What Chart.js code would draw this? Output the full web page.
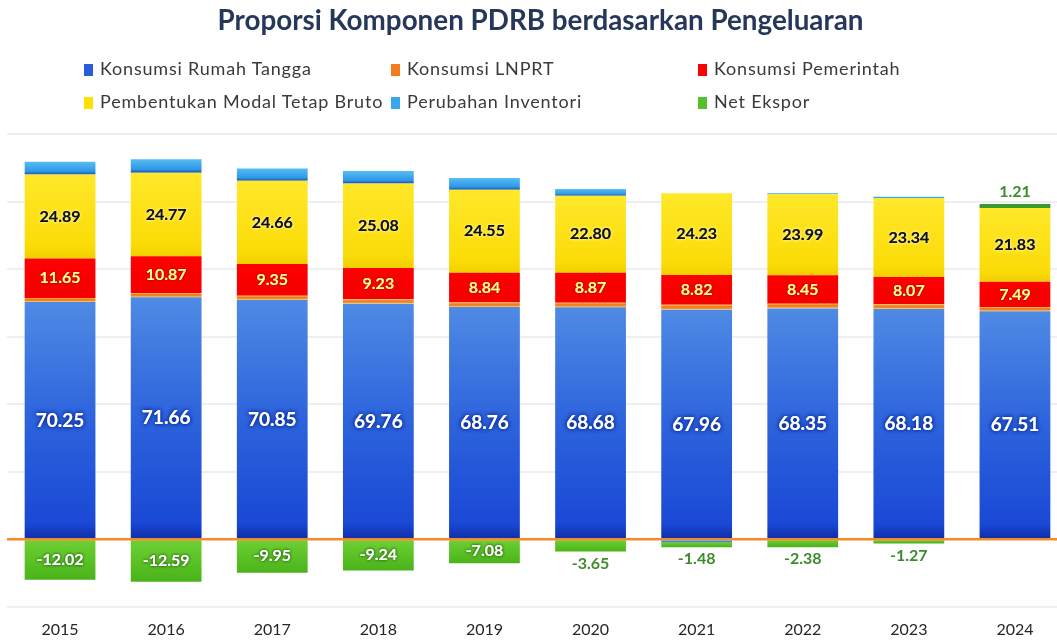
<!DOCTYPE html>
<html>
<head>
<meta charset="utf-8">
<script src="https://cdn.jsdelivr.net/npm/chart.js@4.4.1/dist/chart.umd.min.js"></script>
<style>
  html, body { margin:0; padding:0; background:#fff; overflow:hidden; width:1057px; height:640px; }
  #wrap { position:absolute; left:0; top:0; width:1068px; height:644px; }
  #title { position:absolute; left:12px; width:1057px; top:3px; text-align:center;
    font-family:Lato, sans-serif; font-weight:700; font-size:27.8px; color:#26385a; }
  .lg { position:absolute; font-family:Lato, sans-serif; font-size:18px; letter-spacing:0.8px; color:#3a3a3a; white-space:nowrap; }
  .lg i { display:inline-block; width:9px; height:12px; margin-right:7px; vertical-align:-1px; }
</style>
</head>
<body>
<div id="wrap"><canvas id="c"></canvas></div>
<div id="title">Proporsi Komponen PDRB berdasarkan Pengeluaran</div>
<div id="legend"></div>
<script>
const years = ['2015','2016','2017','2018','2019','2020','2021','2022','2023','2024'];
const rumahTangga = [70.25, 71.66, 70.85, 69.76, 68.76, 68.68, 67.96, 68.35, 68.18, 67.51];
const lnprt       = [1.22, 1.25, 1.27, 1.30, 1.35, 1.37, 1.45, 1.40, 1.40, 1.25];
const pemerintah  = [11.65, 10.87, 9.35, 9.23, 8.84, 8.87, 8.82, 8.45, 8.07, 7.49];
const pmtb        = [24.89, 24.77, 24.66, 25.08, 24.55, 22.80, 24.23, 23.99, 23.34, 21.83];
const inventori   = [3.76, 4.00, 3.67, 3.70, 3.46, 2.00, -0.85, 0.30, 0.40, 0.00];
const netEkspor   = [-12.02, -12.59, -9.95, -9.24, -7.08, -3.65, -1.48, -2.38, -1.27, 1.21];
const seriesNames = ['Konsumsi Rumah Tangga','Konsumsi LNPRT','Konsumsi Pemerintah',
  'Pembentukan Modal Tetap Bruto','Perubahan Inventori','Net Ekspor'];
const yTicks = [-20, 0, 20, 40, 60, 80, 100, 120];

const allSeries = [rumahTangga, lnprt, pemerintah, pmtb, inventori, netEkspor];
const legendColors = ['#2a5bd8','#f57a1c','#ff0000','#ffe000','#3aa6ee','#55c02a'];
const legendPos = [[84,57],[391,57],[698,57],[84,90],[391,90],[698,90]];
const lg = document.getElementById('legend');
seriesNames.forEach((n,i)=>{
  const d=document.createElement('div'); d.className='lg';
  d.style.left=legendPos[i][0]+'px'; d.style.top=legendPos[i][1]+'px';
  d.innerHTML='<i style="background:'+legendColors[i]+'"></i>'+n;
  lg.appendChild(d);
});

function range(ds, idx){
  const v = allSeries[ds][idx];
  let base = 0;
  for (let k=0;k<ds;k++){
    const w = allSeries[k][idx];
    if ((v>=0 && w>0) || (v<0 && w<0)) base += w;
  }
  return [base, base+v];
}
const stopsByDs = [
  [[0,'#4f8ae4'],[0.5,'#2d63dc'],[0.93,'#1a49d6'],[1,'#0f2ea8']],
  [[0,'#ffc060'],[0.35,'#f47a18'],[0.7,'#f08a20'],[1,'#ffd890']],
  [[0,'#ff0000'],[1,'#f40000']],
  [[0,'#ffe82a'],[0.85,'#fbdc08'],[1,'#f2cf00']],
  [[0,'#58bcf2'],[0.75,'#2f98e8'],[1,'#1c4fb8']],
  [[0,'#6fd034'],[1,'#49b41a']]
];
function bg(ds){
  return function(c){
    const chart=c.chart;
    if (c.type!=='data' || !chart.chartArea) return legendColors[ds];
    const y=chart.scales.y;
    const [a,b]=range(ds,c.dataIndex);
    if (ds===5 && b>0) return '#3a9a2c';
    const top=y.getPixelForValue(Math.max(a,b)), bot=y.getPixelForValue(Math.min(a,b));
    if (!isFinite(top)||!isFinite(bot)||bot-top<0.5) return legendColors[ds];
    const g=chart.ctx.createLinearGradient(0,top,0,bot);
    stopsByDs[ds].forEach(s=>g.addColorStop(s[0],s[1]));
    return g;
  };
}

const labelPlugin = {
  id:'vlabels',
  afterDatasetsDraw(chart){
    const ctx=chart.ctx, y=chart.scales.y;
    ctx.save();
    const zy=y.getPixelForValue(0);
    ctx.strokeStyle='#f58a2a'; ctx.lineWidth=2.5;
    ctx.beginPath(); ctx.moveTo(chart.chartArea.left, zy); ctx.lineTo(chart.chartArea.right, zy); ctx.stroke();
    ctx.textAlign='center'; ctx.textBaseline='middle';
    const cfg = {0:{font:'700 19px Lato',fill:'#ffffff',sh:'#0a2a9a',blur:4},
                 2:{font:'700 16px Lato',fill:'#ffff8c',sh:'#b00000',blur:2},
                 3:{font:'700 16px Lato',fill:'#111111',sh:'#fff6a0',blur:3}};
    [0,2,3,5].forEach(ds=>{
      const meta=chart.getDatasetMeta(ds);
      meta.data.forEach((bar,i)=>{
        const v=allSeries[ds][i];
        const [a,b]=range(ds,i);
        const yt=y.getPixelForValue(Math.max(a,b)), yb=y.getPixelForValue(Math.min(a,b));
        let x=bar.x, yy=(yt+yb)/2, c=cfg[ds];
        const txt=v.toFixed(2);
        if (ds===5){
          if (v>0){ c={font:'700 16px Lato',fill:'#3d8c2c',sh:'rgba(0,0,0,0)',blur:0}; yy=yt-12; }
          else if (v<-5){ c={font:'700 16px Lato',fill:'#ffffff',sh:'#2a6a10',blur:3}; }
          else { c={font:'700 16px Lato',fill:'#3d8c2c',sh:'rgba(0,0,0,0)',blur:0}; yy=yb+12; }
        }
        ctx.font=c.font; ctx.fillStyle=c.fill;
        ctx.shadowColor=c.sh; ctx.shadowBlur=c.blur;
        ctx.fillText(txt,x,yy);
        if (c.blur) ctx.fillText(txt,x,yy);
        ctx.shadowBlur=0;
      });
    });
    ctx.restore();
  }
};

new Chart(document.getElementById('c'), {
  type:'bar',
  data:{
    labels: years,
    datasets: seriesNames.map((n,i)=>({
      label:n, data: allSeries[i], backgroundColor: bg(i),
      borderWidth:0, barPercentage:1, categoryPercentage:0.667
    }))
  },
  options:{
    responsive:true, maintainAspectRatio:false, animation:false,
    layout:{ padding:{ top:134, left:7, right:0, bottom:0 } },
    plugins:{ legend:{display:false}, title:{display:false}, tooltip:{enabled:false} },
    scales:{
      x:{ stacked:true, grid:{display:false}, border:{display:false},
          ticks:{ color:'#262626', font:{family:'Lato', size:16}, padding:5 } },
      y:{ stacked:true, min:-20, max:120, afterBuildTicks(ax){ ax.ticks = yTicks.map(v=>({value:v})); },
          ticks:{display:false}, border:{display:false},
          grid:{ color:'#efefef', lineWidth:2, drawTicks:false } }
    }
  },
  plugins:[labelPlugin]
});
</script>
</body>
</html>
